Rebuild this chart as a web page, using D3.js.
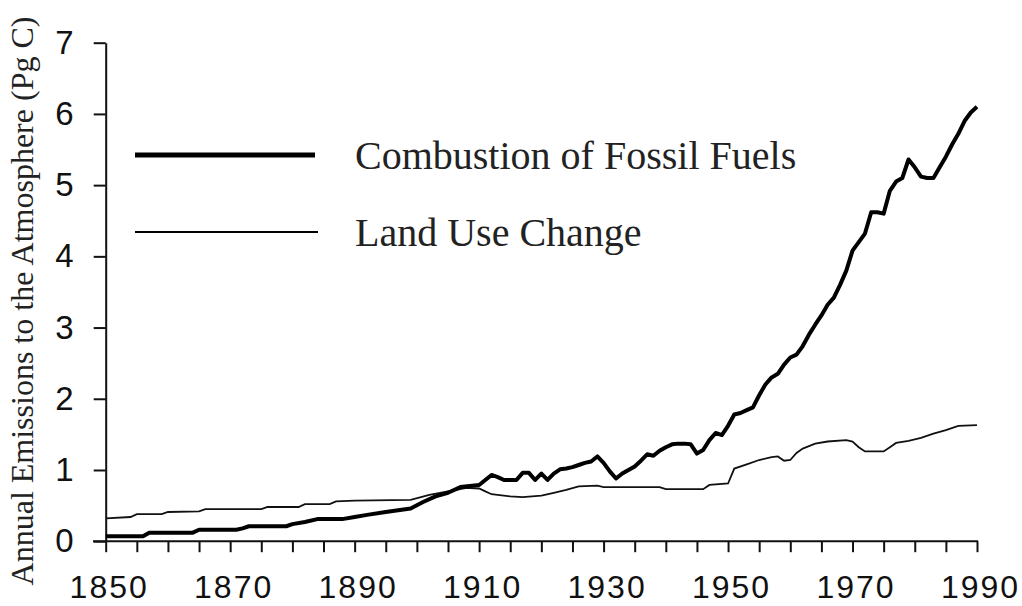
<!DOCTYPE html>
<html>
<head>
<meta charset="utf-8">
<script src="https://cdn.jsdelivr.net/npm/d3@7"></script>
<style>
  html, body { margin: 0; padding: 0; background: #fff; }
  svg { display: block; }
</style>
</head>
<body>
<div id="chart"></div>
<script>
"use strict";

// fossil fuel combustion, Pg C per year
var fossilYears = [1850, 1856, 1857, 1864, 1865, 1871, 1872, 1873, 1879, 1880, 1882, 1884, 1888, 1890, 1892,
  1895, 1899, 1901, 1903, 1905, 1907, 1910, 1911, 1912, 1913, 1914, 1915, 1916, 1917, 1918, 1919, 1920,
  1921, 1922, 1923, 1924, 1925, 1926, 1927, 1928, 1929, 1930, 1931, 1932, 1933, 1934, 1935, 1936, 1937,
  1938, 1939, 1940, 1941, 1942, 1943, 1944, 1945, 1946, 1947, 1948, 1949, 1950, 1951, 1952, 1953, 1954,
  1955, 1956, 1957, 1958, 1959, 1960, 1961, 1962, 1963, 1964, 1965, 1966, 1967, 1968, 1969, 1970, 1971,
  1972, 1973, 1974, 1975, 1976, 1977, 1978, 1979, 1980, 1981, 1982, 1983, 1984, 1985, 1986, 1987, 1988,
  1989, 1990];
var fossilValues = [0.07, 0.07, 0.12, 0.12, 0.16, 0.16, 0.18, 0.21, 0.21, 0.24, 0.27, 0.31, 0.31, 0.34, 0.37,
  0.41, 0.46, 0.55, 0.63, 0.68, 0.76, 0.79, 0.86, 0.93, 0.90, 0.86, 0.86, 0.86, 0.96, 0.96, 0.86, 0.95,
  0.86, 0.95, 1.01, 1.02, 1.04, 1.07, 1.10, 1.12, 1.19, 1.10, 0.98, 0.88, 0.95, 1.00, 1.05, 1.13, 1.22,
  1.20, 1.27, 1.32, 1.36, 1.37, 1.37, 1.36, 1.23, 1.28, 1.42, 1.52, 1.49, 1.62, 1.78, 1.80, 1.84, 1.88,
  2.05, 2.20, 2.30, 2.35, 2.48, 2.58, 2.62, 2.74, 2.90, 3.04, 3.17, 3.32, 3.42, 3.60, 3.80, 4.08, 4.20,
  4.32, 4.62, 4.62, 4.60, 4.92, 5.05, 5.10, 5.36, 5.25, 5.12, 5.10, 5.10, 5.25, 5.40, 5.57, 5.72, 5.90,
  6.02, 6.10];

// land use change, Pg C per year
var landYears = [1850, 1854, 1855, 1859, 1860, 1865, 1866, 1875, 1876, 1881, 1882, 1886, 1887, 1890, 1899,
  1902, 1905, 1908, 1910, 1911, 1912, 1915, 1917, 1920, 1922, 1924, 1926, 1929, 1930, 1939, 1940, 1946,
  1947, 1950, 1951, 1953, 1955, 1957, 1958, 1959, 1960, 1961, 1962, 1964, 1966, 1969, 1970, 1971, 1972,
  1975, 1976, 1977, 1979, 1981, 1983, 1985, 1987, 1990];
var landValues = [0.32, 0.34, 0.38, 0.38, 0.41, 0.42, 0.45, 0.45, 0.48, 0.48, 0.52, 0.52, 0.56, 0.57, 0.58,
  0.65, 0.70, 0.75, 0.74, 0.70, 0.66, 0.63, 0.62, 0.64, 0.68, 0.72, 0.77, 0.78, 0.76, 0.76, 0.73, 0.73,
  0.79, 0.81, 1.02, 1.08, 1.14, 1.18, 1.19, 1.13, 1.14, 1.24, 1.30, 1.37, 1.40, 1.42, 1.40, 1.32, 1.26,
  1.26, 1.32, 1.38, 1.41, 1.45, 1.51, 1.56, 1.62, 1.63];

var xTickLabels = [1850, 1870, 1890, 1910, 1930, 1950, 1970, 1990];
var yTickLabels = [0, 1, 2, 3, 4, 5, 6, 7];
var legendLabels = ["Combustion of Fossil Fuels", "Land Use Change"];
var yTitle = "Annual Emissions to the Atmosphere (Pg C)";

var width = 1022, height = 606;

var svg = d3.select("#chart").append("svg")
  .attr("width", width)
  .attr("height", height);

var x = d3.scaleLinear().domain([1850, 1990]).range([105.7, 977]);
var y = d3.scaleLinear().domain([0, 7]).range([541.2, 42.7]);

// y axis
var yAxis = svg.append("g")
  .attr("transform", "translate(" + x.range()[0] + ",0)")
  .call(d3.axisLeft(y).tickValues(yTickLabels).tickFormat(d3.format("d"))
    .tickSize(12).tickPadding(20).tickSizeOuter(0));
yAxis.select(".domain").attr("stroke", "#111").attr("stroke-width", 2);
yAxis.selectAll(".tick line").attr("stroke", "#111").attr("stroke-width", 2);
yAxis.selectAll(".tick text")
  .attr("font-family", "'Liberation Sans', Arial, sans-serif")
  .attr("font-size", 33)
  .attr("fill", "#111");

// x axis, ticks every 5 years, labels every 20
var xAxis = svg.append("g")
  .attr("transform", "translate(0," + y(0) + ")")
  .call(d3.axisBottom(x).tickValues(d3.range(1850, 1991, 5)).tickSize(11).tickSizeOuter(0)
    .tickFormat(function(d) { return xTickLabels.indexOf(d) >= 0 ? d : ""; }));
xAxis.select(".domain").remove();
xAxis.append("line")
  .attr("x1", 93).attr("x2", x.range()[1] + 1)
  .attr("stroke", "#111").attr("stroke-width", 2);
xAxis.selectAll(".tick line").attr("stroke", "#111").attr("stroke-width", 2);
xAxis.selectAll(".tick text")
  .attr("font-family", "'Liberation Sans', Arial, sans-serif")
  .attr("font-size", 32)
  .attr("letter-spacing", 2)
  .attr("fill", "#111")
  .attr("dx", 3)
  .attr("dy", null)
  .attr("y", 57);

// y title
svg.append("text")
  .attr("transform", "translate(33,301) rotate(-90)")
  .attr("text-anchor", "middle")
  .attr("font-family", "'Liberation Serif', 'Times New Roman', serif")
  .attr("font-size", 32)
  .attr("fill", "#222")
  .text(yTitle);

// lines
var line = d3.line()
  .x(function(d) { return x(d[0]); })
  .y(function(d) { return y(d[1]); });

svg.append("path")
  .datum(d3.zip(landYears, landValues))
  .attr("fill", "none")
  .attr("stroke", "#111")
  .attr("stroke-width", 1.8)
  .attr("d", line);

svg.append("path")
  .datum(d3.zip(fossilYears, fossilValues))
  .attr("fill", "none")
  .attr("stroke", "#000")
  .attr("stroke-width", 4)
  .attr("stroke-linejoin", "round")
  .attr("d", line);

// legend
var legend = svg.append("g");
var legendRows = [
  { label: legendLabels[0], w: 5, x2: 315, y: 155 },
  { label: legendLabels[1], w: 1.8, x2: 318, y: 232 }
];
legendRows.forEach(function(r) {
  legend.append("line")
    .attr("x1", 135).attr("x2", r.x2)
    .attr("y1", r.y).attr("y2", r.y)
    .attr("stroke", "#000").attr("stroke-width", r.w);
  legend.append("text")
    .attr("x", 355).attr("y", r.y + 14)
    .attr("font-family", "'Liberation Serif', 'Times New Roman', serif")
    .attr("font-size", 40)
    .attr("fill", "#222")
    .text(r.label);
});
</script>
</body>
</html>
